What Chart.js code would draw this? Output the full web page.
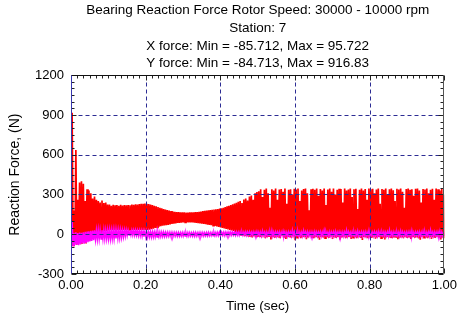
<!DOCTYPE html>
<html>
<head>
<meta charset="UTF-8">
<title>Bearing Reaction Force</title>
<script src="https://cdn.jsdelivr.net/npm/chart.js"></script>
<style>
  html, body { margin: 0; padding: 0; background: #fff; }
  #wrap { width: 461px; height: 322px; }
</style>
</head>
<body>
<div id="wrap"><canvas id="forceChart" width="461" height="322"></canvas></div>
<script>
// sample grid: one peak/trough pair every dt seconds, starting at t0
const t0 = 0.003;
const dt = 0.005;

// Y force (N): peak and trough of each cycle
const yForcePeaks = [
  916.83, 180, 635, 260, 390, 400, 380, 250, 340, 330, 310, 270, 285, 260, 250, 240, 255, 235, 240, 225,
  225, 215, 222, 218, 220, 214, 222, 216, 220, 218, 221, 219, 224, 222, 226, 225, 228, 230, 229, 231,
  230, 228, 224, 220, 215, 210, 205, 200, 195, 190, 186, 182, 178, 175, 172, 170, 168, 167, 166, 165,
  165, 164, 164, 165, 165, 166, 167, 168, 170, 172, 174, 176, 178, 180, 182, 184, 186, 188, 190, 193,
  196, 200, 205, 210, 215, 220, 226, 232, 238, 245, 250, 235, 262, 270, 255, 285, 292, 260, 310, 318,
  325, 340, 280, 335, 345, 310, 200, 340, 330, 345, 260, 338, 342, 320, 345, 230, 335, 340, 300, 344,
  338, 345, 250, 330, 342, 345, 310, 180, 340, 344, 336, 345, 290, 342, 330, 345, 220, 338, 345, 320,
  345, 300, 336, 344, 342, 240, 345, 330, 338, 345, 280, 340, 344, 190, 336, 345, 330, 342, 260, 345,
  340, 344, 310, 338, 345, 230, 342, 336, 345, 300, 340, 345, 332, 250, 344, 338, 345, 320, 200, 342,
  345, 336, 340, 290, 344, 345, 330, 240, 342, 338, 345, 310, 336, 344, 260, 345, 340, 330, 345, 300
];
const yForceTroughs = [
  -84.713, -70, -80, -60, -75, -72, -45, -70, -50, -48, -35, -30, -15, -5, 5, 12, 18, 22, 25, 28,
  30, 31, 30, 32, 30, 31, 30, 32, 31, 30, 32, 31, 30, 32, 31, 32, 33, 32, 33, 32,
  32, 34, 38, 42, 48, 52, 56, 60, 64, 66, 68, 71, 74, 77, 80, 82, 85, 86, 88, 89,
  90, 90, 90, 89, 89, 88, 86, 84, 82, 80, 78, 75, 72, 70, 68, 65, 62, 58, 55, 52,
  48, 44, 40, 36, 33, 29, 25, 18, 10, 3, -5, -10, -15, -12, -20, -18, -25, -15, -22, -20,
  -20, -25, -10, -30, -22, -15, -40, -20, -28, -18, -24, -30, -12, -26, -35, -20, -22, -28, -15, -45,
  -25, -18, -30, -22, -20, -38, -24, -15, -28, -30, -20, -26, -42, -18, -24, -30, -22, -28, -16, -35,
  -22, -28, -20, -40, -25, -18, -30, -24, -20, -36, -26, -22, -30, -18, -28, -44, -20, -25, -30, -22,
  -28, -18, -34, -24, -20, -30, -26, -40, -22, -18, -28, -30, -24, -20, -38, -26, -22, -30, -18, -28,
  -24, -35, -20, -28, -22, -30, -42, -18, -26, -24, -30, -20, -36, -22, -28, -18, -26, -40, -24, -30
];

// X force (N): peak and trough of each cycle
const xForcePeaks = [
  95.722, 10, 15, 8, 12, 10, 14, 18, 20, 22, 25, 28, 30, 30, 32, 30, 31, 32, 30, 31,
  32, 30, 31, 32, 30, 31, 32, 30, 31, 32, 30, 31, 30, 29, 30, 28, 27, 25, 24, 22,
  20, 19, 18, 18, 17, 17, 16, 16, 15, 15, 14, 14, 13, 13, 12, 12, 12, 12, 11, 12,
  12, 11, 12, 12, 11, 12, 12, 11, 12, 12, 12, 11, 12, 13, 12, 13, 14, 13, 14, 15,
  14, 15, 16, 15, 16, 17, 16, 17, 18, 17, 18, 17, 16, 18, 17, 19, 16, 18, 17, 20,
  16, 17, 24, 15, 17, 16, 18, 28, 16, 17, 15, 18, 16, 22, 17, 15, 18, 16, 30, 17,
  16, 18, 15, 17, 26, 16, 18, 15, 17, 16, 20, 17, 15, 18, 16, 28, 17, 15, 18, 16,
  17, 22, 16, 18, 15, 17, 16, 30, 18, 15, 17, 16, 18, 24, 15, 17, 16, 18, 15, 28,
  17, 16, 18, 15, 22, 17, 16, 18, 15, 17, 30, 16, 18, 15, 17, 16, 24, 18, 15, 17,
  16, 18, 28, 15, 17, 16, 18, 15, 22, 17, 16, 18, 30, 15, 17, 16, 18, 24, 15, 17
];
const xForceTroughs = [
  -85.712, -80, -78, -82, -75, -70, -72, -65, -60, -55, -50, -45, -40, -38, -36, -35, -34, -35, -33, -34,
  -35, -33, -34, -32, -30, -28, -25, -20, -15, -10, -6, -5, -6, -7, -8, -10, -12, -15, -18, -20,
  -21, -20, -21, -20, -19, -20, -18, -17, -16, -16, -15, -15, -14, -14, -14, -13, -14, -14, -13, -14,
  -13, -14, -13, -12, -13, -14, -13, -12, -13, -12, -12, -11, -12, -11, -10, -11, -10, -9, -10, -9,
  -8, -9, -8, -7, -8, -7, -6, -7, -6, -7, -6, -7, -6, -8, -7, -6, -8, -7, -6, -8,
  -10, -12, -8, -14, -10, -12, -9, -13, -11, -14, -10, -12, -8, -13, -11, -14, -9, -12, -10, -13,
  -11, -14, -9, -12, -10, -13, -11, -14, -10, -12, -9, -13, -11, -14, -10, -12, -8, -13, -11, -14,
  -10, -12, -9, -13, -11, -14, -10, -12, -8, -13, -11, -14, -9, -12, -10, -13, -11, -14, -10, -12,
  -9, -13, -11, -14, -10, -12, -8, -13, -11, -14, -9, -12, -10, -13, -11, -14, -10, -12, -9, -13,
  -11, -14, -10, -12, -8, -13, -11, -14, -9, -12, -10, -13, -11, -14, -10, -12, -9, -13, -11, -14
];

// axis ticks
const xTicks = [0, 0.2, 0.4, 0.6, 0.8, 1.0];
const yTicks = [-300, 0, 300, 600, 900, 1200];
const xMinorPerMajor = 12;
const yMinorPerMajor = 6;

const titleLines = [
  'Bearing Reaction Force Rotor Speed: 30000 - 10000 rpm',
  'Station: 7',
  'X force: Min = -85.712, Max = 95.722',
  'Y force: Min = -84.713, Max = 916.83'
];

const fontFamily = '"Liberation Sans", Arial, sans-serif';

// peak at t, trough half a step later
function cycles(peaks, troughs) {
  const pts = [];
  peaks.forEach((p, i) => {
    const t = t0 + i * dt;
    pts.push({ x: t, y: p }, { x: t + dt / 2, y: troughs[i] });
  });
  return pts;
}

// dashed grid, coloured frame and inward tick marks, drawn over the traces
const axisFrame = {
  id: 'axisFrame',
  afterDatasetsDraw(chart) {
    const { ctx, chartArea: a, scales: { x, y } } = chart;
    const L = Math.round(a.left) + 0.5, R = Math.round(a.right) - 0.5;
    const T = Math.round(a.top) + 0.5, B = Math.round(a.bottom) - 0.5;
    const seg = (x1, y1, x2, y2) => { ctx.beginPath(); ctx.moveTo(x1, y1); ctx.lineTo(x2, y2); ctx.stroke(); };

    ctx.save();
    ctx.lineWidth = 1;
    ctx.strokeStyle = '#2c2c94';
    ctx.setLineDash([4, 3]);
    xTicks.slice(1, -1).forEach(v => {
      const px = Math.round(x.getPixelForValue(v)) + 0.5;
      seg(px, T, px, B);
    });
    yTicks.slice(1, -1).forEach(v => {
      const py = Math.round(y.getPixelForValue(v)) + 0.5;
      seg(L, py, R, py);
    });
    ctx.setLineDash([]);

    ctx.strokeStyle = '#222';
    const xStep = (xTicks[1] - xTicks[0]) / xMinorPerMajor;
    const xCount = Math.round((xTicks[xTicks.length - 1] - xTicks[0]) / xStep);
    for (let k = 0; k <= xCount; k++) {
      const px = Math.round(x.getPixelForValue(xTicks[0] + k * xStep)) + 0.5;
      const len = k % xMinorPerMajor === 0 ? 5 : 3;
      seg(px, B, px, B - len);
      seg(px, T, px, T + len);
    }
    const yStep = (yTicks[1] - yTicks[0]) / yMinorPerMajor;
    const yCount = Math.round((yTicks[yTicks.length - 1] - yTicks[0]) / yStep);
    for (let k = 0; k <= yCount; k++) {
      const py = Math.round(y.getPixelForValue(yTicks[0] + k * yStep)) + 0.5;
      const len = k % yMinorPerMajor === 0 ? 5 : 3;
      seg(L, py, L + len, py);
      seg(R, py, R - len, py);
    }

    ctx.strokeStyle = '#111';
    seg(L, T, R, T);
    seg(L, B, R, B);
    ctx.strokeStyle = '#555';
    seg(R, T, R, B);
    ctx.strokeStyle = '#3838b0';
    seg(L, T, L, B);
    ctx.restore();
  }
};

const ctx = document.getElementById('forceChart').getContext('2d');

new Chart(ctx, {
  type: 'line',
  data: {
    datasets: [
      {
        label: 'X force',
        data: cycles(xForcePeaks, xForceTroughs),
        borderColor: '#ff00ff',
        borderWidth: 1.5,
        pointRadius: 0,
        tension: 0,
        fill: false
      },
      {
        label: 'Y force',
        data: cycles(yForcePeaks, yForceTroughs),
        borderColor: '#ff0000',
        borderWidth: 1.7,
        pointRadius: 0,
        tension: 0,
        fill: false
      }
    ]
  },
  options: {
    responsive: false,
    animation: false,
    parsing: false,
    layout: { padding: { left: 0, right: 12, top: 0, bottom: 0 } },
    plugins: {
      legend: { display: false },
      tooltip: { enabled: false },
      title: {
        display: true,
        fullSize: false,
        text: titleLines,
        color: '#000',
        font: { family: fontFamily, size: 13.5, weight: 'normal', lineHeight: 1.3 },
        padding: { top: 2, bottom: 3 }
      }
    },
    scales: {
      x: {
        type: 'linear',
        min: xTicks[0],
        max: xTicks[xTicks.length - 1],
        afterBuildTicks: s => { s.ticks = xTicks.map(v => ({ value: v })); },
        afterFit: s => { s.height = 48; },
        grid: { display: false, drawTicks: false },
        border: { display: false },
        ticks: {
          padding: 4,
          color: '#000',
          maxRotation: 0,
          autoSkip: false,
          font: { family: fontFamily, size: 13 },
          callback: v => v.toFixed(2)
        },
        title: {
          display: true,
          text: 'Time (sec)',
          color: '#000',
          font: { family: fontFamily, size: 13.5 },
          padding: { top: 8, bottom: 8 }
        }
      },
      y: {
        min: yTicks[0],
        max: yTicks[yTicks.length - 1],
        afterBuildTicks: s => { s.ticks = yTicks.map(v => ({ value: v })); },
        afterFit: s => { s.width = 71; },
        grid: { display: false, drawTicks: false },
        border: { display: false },
        ticks: {
          padding: 7,
          color: '#000',
          autoSkip: false,
          font: { family: fontFamily, size: 13 },
          callback: v => String(v)
        },
        title: {
          display: true,
          text: 'Reaction Force, (N)',
          color: '#000',
          font: { family: fontFamily, size: 14 },
          padding: { top: 7, bottom: 7 }
        }
      }
    }
  },
  plugins: [axisFrame]
});
</script>
</body>
</html>
